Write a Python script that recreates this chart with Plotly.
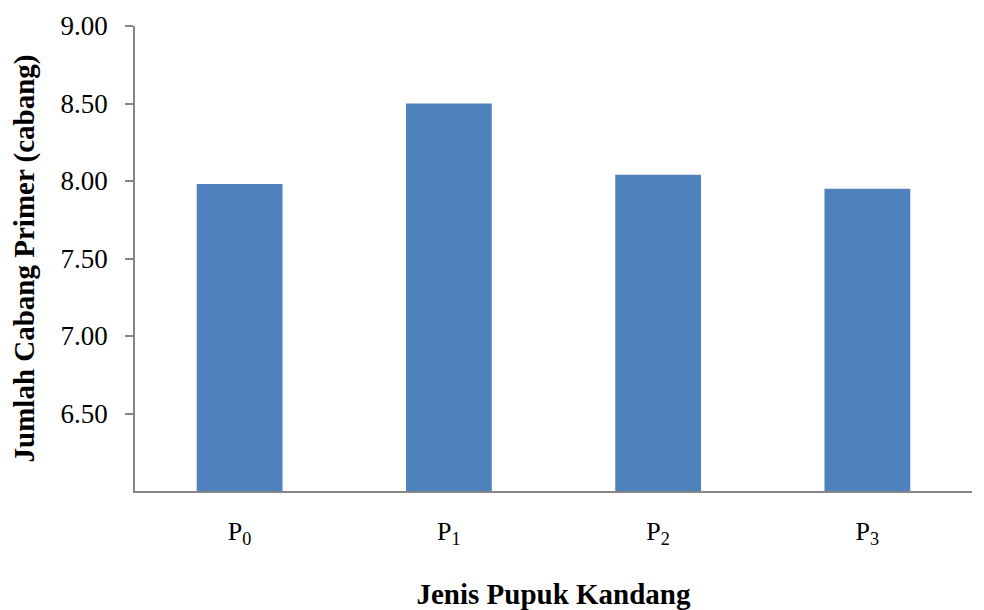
import plotly.graph_objects as go

categories = ["P<sub>0</sub>", "P<sub>1</sub>", "P<sub>2</sub>", "P<sub>3</sub>"]
values = [7.98, 8.50, 8.04, 7.95]
axis_base = 6.0
tick_vals = [6.5, 7.0, 7.5, 8.0, 8.5, 9.0]
tick_text = ["6.50", "7.00", "7.50", "8.00", "8.50", "9.00"]

axis_color = "#868686"
font_family = "Liberation Serif, Times New Roman, serif"

fig = go.Figure(
    go.Bar(
        x=categories,
        y=[v - axis_base for v in values],
        base=axis_base,
        marker=dict(color="#4F81BD", line=dict(width=0)),
    )
)

fig.update_layout(
    width=984,
    height=610,
    margin=dict(l=127, r=20, t=18, b=127),
    paper_bgcolor="white",
    plot_bgcolor="white",
    bargap=0.59,
    showlegend=False,
    font=dict(family=font_family, color="black", size=26),
)
fig.update_xaxes(
    automargin=False,
    showline=True,
    linecolor=axis_color,
    linewidth=1.5,
    ticks="",
    showgrid=False,
    tickfont=dict(size=26),
    ticklabelstandoff=16,
    title=dict(text="<b>Jenis Pupuk Kandang</b>", font=dict(size=29), standoff=35),
)
fig.update_yaxes(
    automargin=False,
    range=[6.0, 9.0],
    showline=True,
    linecolor=axis_color,
    linewidth=1.5,
    ticks="outside",
    ticklen=8,
    tickcolor=axis_color,
    tickwidth=1.5,
    tickvals=tick_vals,
    ticktext=tick_text,
    showgrid=False,
    zeroline=False,
    tickfont=dict(size=27),
    ticklabelstandoff=12,
    title=dict(text="<b>Jumlah Cabang Primer (cabang)</b>", font=dict(size=29), standoff=25),
)

fig.write_html("out.html")
